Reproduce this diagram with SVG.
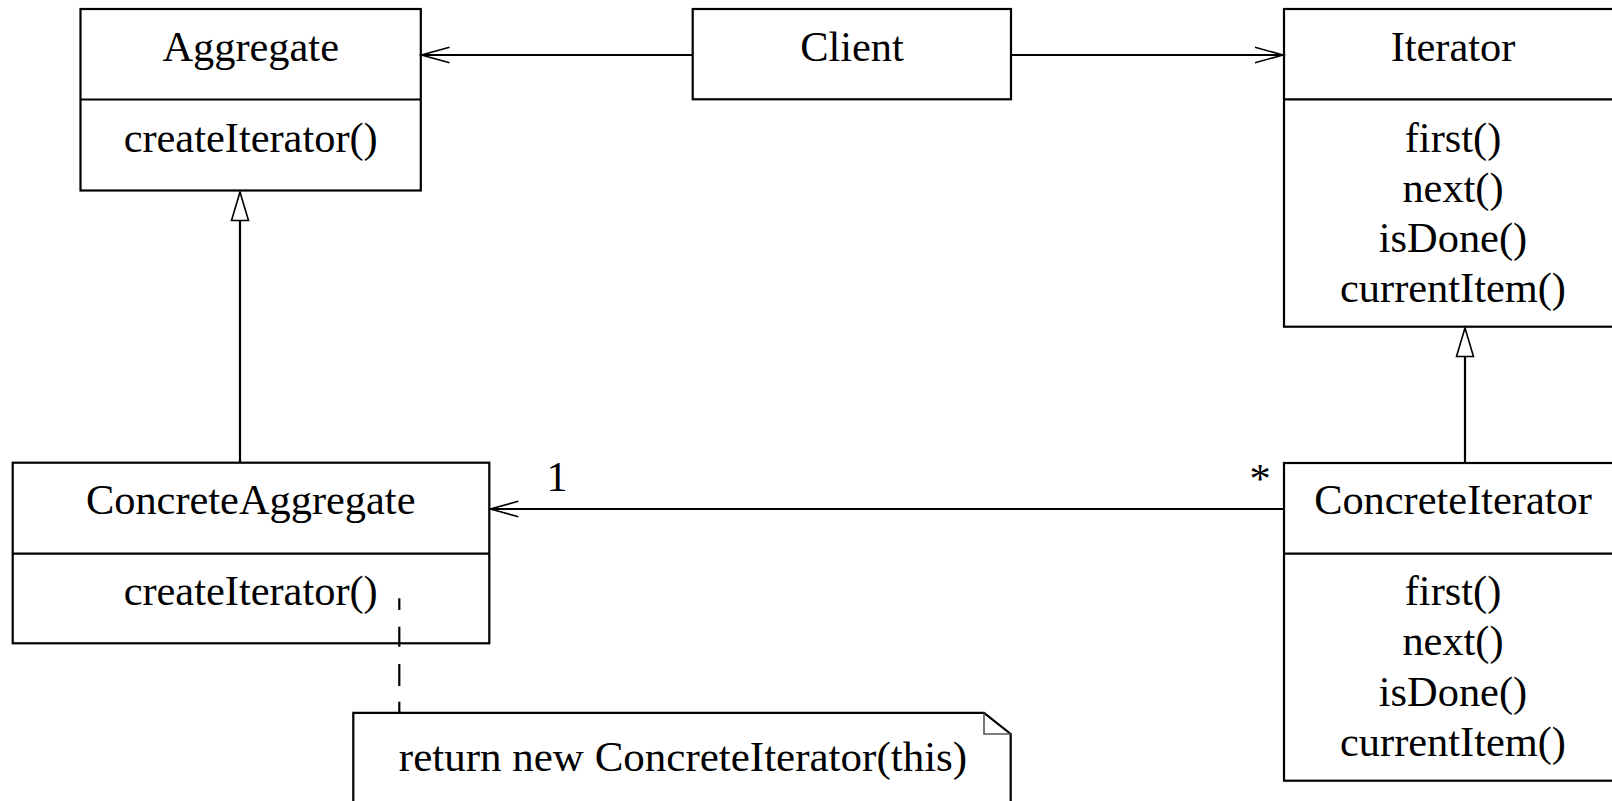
<svg xmlns="http://www.w3.org/2000/svg" width="1612" height="801" viewBox="0 0 1612 801">
<style>
.box{fill:#fff;stroke:#000;stroke-width:2.2}
.div{stroke:#000;stroke-width:2.2}
.t{font-family:"Liberation Serif","Times New Roman",serif;font-size:42.4px;fill:#000;text-anchor:middle}
.edge{stroke:#000;stroke-width:2.2;fill:none}
.dash{stroke:#000;stroke-width:2.2;fill:none}
</style>
<defs>
<marker id="open" markerUnits="userSpaceOnUse" viewBox="-32 -11 34 22" markerWidth="34" markerHeight="22" refX="0" refY="0" orient="auto" overflow="visible">
<path d="M-28,-7.7 L0,0 L-28,7.7" fill="none" stroke="#000" stroke-width="1.6"/>
</marker>
<marker id="tri" markerUnits="userSpaceOnUse" viewBox="-32 -11 34 22" markerWidth="34" markerHeight="22" refX="0" refY="0" orient="auto" overflow="visible">
<path d="M0,0 L-28.5,-8.5 L-28.5,8.5 Z" fill="#fff" stroke="#000" stroke-width="1.6"/>
</marker>
</defs>
<rect width="1612" height="801" fill="#fff"/>
<g id="Aggregate">
<rect class="box" x="80.5" y="9" width="340.3" height="181.5"/>
<line class="div" x1="80.5" y1="99.5" x2="420.8" y2="99.5"/>
<text class="t" x="250.7" y="61">Aggregate</text>
<text class="t" x="250.7" y="151.5">createIterator()</text>
</g>
<g id="Client">
<rect class="box" x="692.7" y="9" width="318.3" height="90.3"/>
<text class="t" x="852" y="61">Client</text>
</g>
<g id="Iterator">
<rect class="box" x="1284" y="9" width="360" height="317.7"/>
<line class="div" x1="1284" y1="99.4" x2="1644" y2="99.4"/>
<text class="t" x="1453" y="61">Iterator</text>
<text class="t" x="1453" y="151.5">first()</text>
<text class="t" x="1453" y="201.7">next()</text>
<text class="t" x="1453" y="252">isDone()</text>
<text class="t" x="1453" y="302.2">currentItem()</text>
</g>
<g id="ConcreteAggregate">
<rect class="box" x="12.7" y="462.7" width="476.6" height="180.6"/>
<line class="div" x1="12.7" y1="553.7" x2="489.3" y2="553.7"/>
<text class="t" x="250.7" y="514">ConcreteAggregate</text>
<text class="t" x="250.7" y="605">createIterator()</text>
</g>
<g id="ConcreteIterator">
<rect class="box" x="1284" y="463" width="360" height="317.7"/>
<line class="div" x1="1284" y1="553.7" x2="1644" y2="553.7"/>
<text class="t" x="1453" y="514">ConcreteIterator</text>
<text class="t" x="1453" y="605">first()</text>
<text class="t" x="1453" y="655">next()</text>
<text class="t" x="1453" y="705.5">isDone()</text>
<text class="t" x="1453" y="755.5">currentItem()</text>
</g>
<g id="Note">
<path class="box" d="M353.3,830 V712.8 H984 L1010.7,734 V830 Z"/>
<path d="M984,712.8 V734 H1010.7" fill="none" stroke="#555" stroke-width="1.6"/>
<text class="t" x="683" y="771" style="font-size:43px">return new ConcreteIterator(this)</text>
</g>
<g id="connectors">
<line class="edge" x1="692.7" y1="55" x2="421.5" y2="55" marker-end="url(#open)"/>
<line class="edge" x1="1011" y1="55" x2="1283" y2="55" marker-end="url(#open)"/>
<line class="edge" x1="1284" y1="509" x2="490.3" y2="509" marker-end="url(#open)"/>
<line class="edge" x1="240" y1="462.7" x2="240" y2="192" marker-end="url(#tri)"/>
<line class="edge" x1="1465" y1="463" x2="1465" y2="328" marker-end="url(#tri)"/>
<path class="dash" d="M399.3,598.3 V610 M399.3,626.7 V646.7 M399.3,664 V686 M399.3,701.7 V712"/>
<text class="t" x="557" y="491">1</text>
<text class="t" x="1260" y="493">*</text>
</g>
</svg>
